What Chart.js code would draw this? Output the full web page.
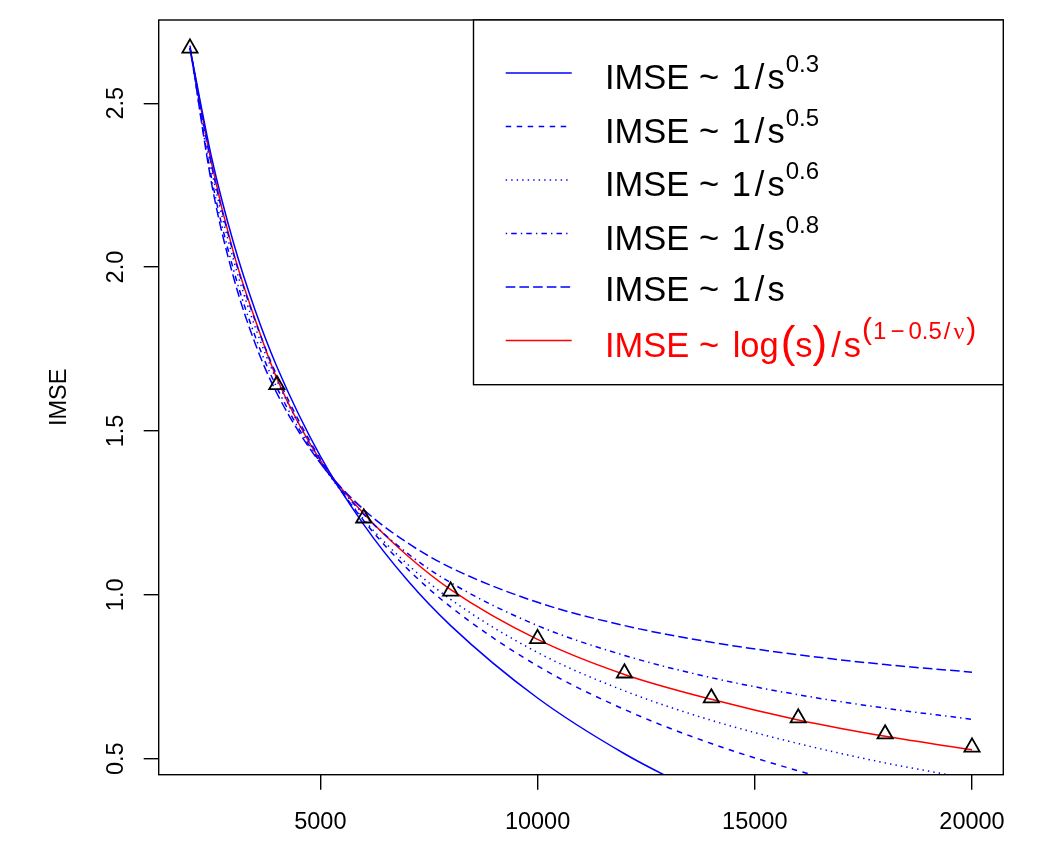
<!DOCTYPE html>
<html>
<head>
<meta charset="utf-8">
<script src="https://cdn.jsdelivr.net/npm/chart.js@4"></script>
<style>
  html, body { margin: 0; padding: 0; background: #fff; }
  canvas { display: block; }
</style>
</head>
<body>
<canvas id="imseChart" width="1050" height="845"></canvas>
<script>
// observed IMSE values (triangles)
const sizes = [2000, 4000, 6000, 8000, 10000, 12000, 14000, 16000, 18000, 20000];
const imseObserved = [2.668, 1.641, 1.234, 1.011, 0.866, 0.761, 0.685, 0.624, 0.575, 0.535];

// fitted curves
const curveSizes = [2000, 2500, 3000, 3500, 4000, 5000, 6000, 7000, 8000, 10000, 12000, 14000, 16000, 18000, 20000];
const fitPow03 = [2.668, 2.333, 2.075, 1.868, 1.696, 1.423, 1.214, 1.045, 0.906, 0.685, 0.515, 0.378, null, null, null];
const fitPow05 = [2.668, 2.308, 2.042, 1.836, 1.669, 1.414, 1.226, 1.080, 0.963, 0.783, 0.650, 0.546, 0.463, 0.394, null];
const fitPow06 = [2.668, 2.295, 2.023, 1.817, 1.654, 1.408, 1.230, 1.094, 0.986, 0.824, 0.707, 0.617, 0.546, 0.487, 0.438];
const fitPow08 = [2.668, 2.269, 1.993, 1.789, 1.632, 1.404, 1.245, 1.127, 1.037, 0.906, 0.815, 0.747, 0.695, 0.654, 0.620];
const fitPow10 = [2.676, 2.253, 1.970, 1.767, 1.615, 1.402, 1.260, 1.159, 1.083, 0.977, 0.906, 0.855, 0.817, 0.787, 0.764];
const fitLog   = [2.668, 2.315, 2.045, 1.840, 1.660, 1.410, 1.248, 1.120, 1.016, 0.864, 0.757, 0.681, 0.618, 0.568, 0.527];

const xTicks = [5000, 10000, 15000, 20000];
const yTicks = [0.5, 1.0, 1.5, 2.0, 2.5];
const legendExponents = ['0.3', '0.5', '0.6', '0.8', ''];

const FONT = '"Liberation Sans", Arial, Helvetica, sans-serif';

function toPoints(xs, ys) {
    return xs.map((x, i) => ({ x: x, y: ys[i] })).filter(p => p.y !== null);
}

function curve(values, color, dash) {
    return {
        data: toPoints(curveSizes, values),
        borderColor: color,
        borderWidth: 1.5,
        borderDash: dash,
        pointRadius: 0,
        cubicInterpolationMode: 'monotone',
        clip: 0,
        order: 2
    };
}

const datasets = [
    curve(fitPow03, '#0000ff', []),
    curve(fitPow05, '#0000ff', [5.5, 5.5]),
    curve(fitPow06, '#0000ff', [1.4, 4.1]),
    curve(fitPow08, '#0000ff', [1.4, 4.1, 5.5, 4.1]),
    curve(fitPow10, '#0000ff', [9.6, 4.1]),
    curve(fitLog, '#ff0000', []),
    {
        data: toPoints(sizes, imseObserved),
        showLine: false,
        pointStyle: 'triangle',
        pointRadius: 8.8,
        pointBorderWidth: 1.8,
        pointBorderColor: '#000',
        pointBackgroundColor: 'rgba(0,0,0,0)',
        order: 1
    }
];

// box, tick labels, axis title and legend in R style
const rStyle = {
    id: 'rStyle',
    afterDraw(chart) {
        const { ctx, chartArea: a, scales: { x, y } } = chart;
        ctx.save();
        ctx.strokeStyle = '#000';
        ctx.lineWidth = 1.4;
        ctx.strokeRect(a.left, a.top, a.right - a.left, a.bottom - a.top);

        ctx.fillStyle = '#000';
        ctx.font = '23.5px ' + FONT;
        ctx.textAlign = 'center';
        ctx.textBaseline = 'alphabetic';
        x.ticks.forEach(t => ctx.fillText(String(t.value), x.getPixelForValue(t.value), a.bottom + 54));
        y.ticks.forEach(t => {
            ctx.save();
            ctx.translate(a.left - 35.4, y.getPixelForValue(t.value));
            ctx.rotate(-Math.PI / 2);
            ctx.fillText(t.value.toFixed(1), 0, 0);
            ctx.restore();
        });
        ctx.save();
        ctx.translate(66, (a.top + a.bottom) / 2);
        ctx.rotate(-Math.PI / 2);
        ctx.fillText('IMSE', 0, 0);
        ctx.restore();

        // legend
        const lx = 473.5, ly = a.top, lw = a.right - lx, lh = 384.7 - a.top;
        ctx.fillStyle = '#fff';
        ctx.fillRect(lx, ly, lw, lh);
        ctx.strokeRect(lx, ly, lw, lh);
        ctx.textAlign = 'left';
        for (let i = 0; i < 6; i++) {
            const ds = chart.data.datasets[i];
            const rowY = a.top + 53 + i * 53.5;
            ctx.save();
            ctx.strokeStyle = ds.borderColor;
            ctx.lineWidth = ds.borderWidth;
            ctx.setLineDash(ds.borderDash);
            ctx.beginPath();
            ctx.moveTo(505.7, rowY);
            ctx.lineTo(571.7, rowY);
            ctx.stroke();
            ctx.restore();

            ctx.fillStyle = i === 5 ? '#ff0000' : '#000';
            let tx = 605;
            const base = rowY + (i === 4 ? 14.3 : 16);
            const piece = (txt, font, gap, raise) => {
                ctx.font = font;
                ctx.fillText(txt, tx + gap, base - (raise || 0));
                tx += gap + ctx.measureText(txt).width;
            };
            const main = '34.5px ' + FONT, sup = '24px ' + FONT;
            if (i < 5) {
                piece('IMSE ~ ', main, 0);
                piece('1', main, 3);
                piece('/', main, 4);
                piece('s', main, 3);
                if (legendExponents[i]) piece(legendExponents[i], sup, 1, 16.7);
            } else {
                const big = '44px ' + FONT, supBig = '30px ' + FONT;
                piece('IMSE ~ ', main, 0);
                piece('log', main, 4);
                piece('(', big, 2);
                piece('s', main, 0);
                piece(')', big, 0);
                piece('/', main, 4);
                piece('s', main, 3);
                piece('(', supBig, 1, 18);
                piece('1', sup, 1, 18);
                piece('\u2212', sup, 4, 18);
                piece('0.5', sup, 4, 18);
                piece('/', sup, 2, 18);
                piece('\u03bd', '24px "Liberation Serif", "DejaVu Serif", serif', 3, 18);
                piece(')', supBig, 2, 18);
            }
        }
        ctx.restore();
    }
};

const tickGrid = { display: true, drawOnChartArea: false, drawTicks: true, tickLength: 15, color: '#000', lineWidth: 1.4 };

new Chart(document.getElementById('imseChart').getContext('2d'), {
    type: 'line',
    data: { datasets: datasets },
    options: {
        responsive: false,
        animation: false,
        devicePixelRatio: 1,
        layout: { padding: { left: 0, top: 20, right: 46.7, bottom: 0 } },
        plugins: { legend: { display: false }, tooltip: { enabled: false } },
        scales: {
            x: {
                type: 'linear',
                min: 1280,
                max: 20720,
                grid: tickGrid,
                border: { display: false },
                ticks: { display: false },
                afterBuildTicks: scale => { scale.ticks = xTicks.map(v => ({ value: v })); },
                afterFit: scale => { scale.height = 70.3; }
            },
            y: {
                type: 'linear',
                min: 0.451,
                max: 2.754,
                grid: tickGrid,
                border: { display: false },
                ticks: { display: false },
                afterBuildTicks: scale => { scale.ticks = yTicks.map(v => ({ value: v })); },
                afterFit: scale => { scale.width = 158.7; }
            }
        }
    },
    plugins: [rStyle]
});
</script>
</body>
</html>
